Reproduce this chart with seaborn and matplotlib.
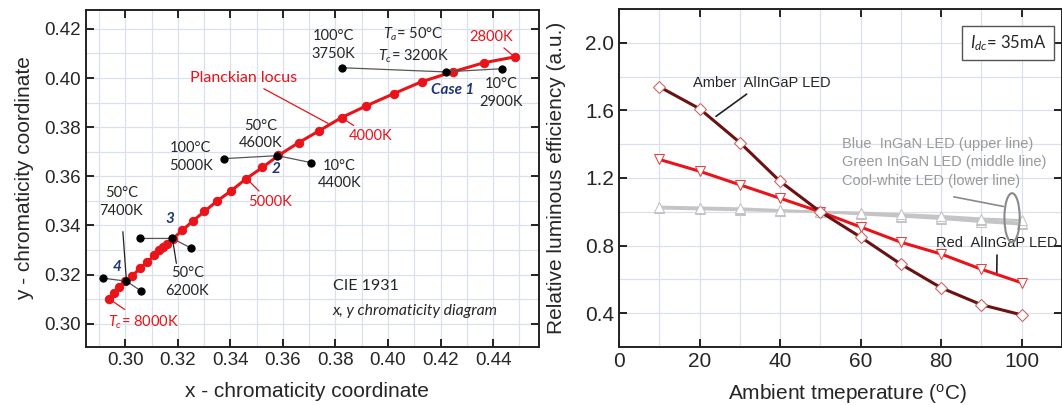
import numpy as np
import pandas as pd
import matplotlib
matplotlib.use("Agg")
import matplotlib.pyplot as plt
import seaborn as sns
from matplotlib.patches import Ellipse
from matplotlib.ticker import MultipleLocator, FormatStrFormatter

sns.set_style("ticks")
plt.rcParams['font.family'] = ['Liberation Sans', 'DejaVu Sans']
plt.rcParams['mathtext.fontset'] = 'custom'
plt.rcParams['mathtext.rm'] = 'Lato'
plt.rcParams['mathtext.it'] = 'Lato:italic'

# planckian locus dots (CIE 1931 x, y), 8000K -> 2800K
locus_x = [0.2939, 0.2958, 0.2977, 0.3000, 0.3027, 0.3054, 0.3084, 0.3110, 0.3128,
           0.3145, 0.3160, 0.3180, 0.3217, 0.3259, 0.3301, 0.3350, 0.3404, 0.3461,
           0.3522, 0.3583, 0.3660, 0.3739, 0.3823, 0.3918, 0.4021, 0.4128, 0.4246,
           0.4364, 0.4482]
locus_y = [0.3100, 0.3124, 0.3149, 0.3172, 0.3193, 0.3226, 0.3250, 0.3280, 0.3298,
           0.3313, 0.3326, 0.3345, 0.3380, 0.3420, 0.3457, 0.3500, 0.3542, 0.3591,
           0.3636, 0.3685, 0.3737, 0.3786, 0.3839, 0.3887, 0.3936, 0.3985, 0.4025,
           0.4062, 0.4086]

# chromaticity shift of the four cases (100C, 50C, 10C)
case1_x = [0.3823, 0.4219, 0.4433]
case1_y = [0.4042, 0.4025, 0.4038]
case2_x = [0.3377, 0.3579, 0.3705]
case2_y = [0.3672, 0.3684, 0.3656]
case3_x = [0.3057, 0.3179, 0.3251]
case3_y = [0.3347, 0.3347, 0.3307]
case4_x = [0.2916, 0.3004, 0.3061]
case4_y = [0.3185, 0.3173, 0.3132]

# relative luminous efficiency vs ambient temperature
temps = [10, 20, 30, 40, 50, 60, 70, 80, 90, 100]
amber = [1.74, 1.61, 1.41, 1.18, 1.00, 0.85, 0.69, 0.55, 0.45, 0.39]
red = [1.31, 1.24, 1.16, 1.08, 1.00, 0.91, 0.82, 0.75, 0.66, 0.58]
blue = [1.03, 1.025, 1.02, 1.01, 1.00, 0.995, 0.985, 0.975, 0.96, 0.95]
green = [1.025, 1.02, 1.015, 1.005, 1.00, 0.99, 0.978, 0.965, 0.95, 0.935]
coolwhite = [1.02, 1.015, 1.01, 1.005, 1.00, 0.985, 0.972, 0.958, 0.94, 0.925]

RED = '#e8141a'
MAROON = '#6a1212'
GRAY = '#c4c4c4'
NAVY = '#1f3577'
GRID = '#dbe1ec'

fig = plt.figure(figsize=(10.62, 4.05), dpi=100)
ax1 = fig.add_axes([86/1062, 58/405, 453/1062, 337/405])
ax2 = fig.add_axes([619/1062, 58/405, 443/1062, 338/405])

def style_axes(ax):
    ax.grid(True, which='both', color=GRID, lw=0.9, zorder=0)
    ax.set_axisbelow(True)
    for s in ax.spines.values():
        s.set_color('#222222')
        s.set_linewidth(1.4)
    ax.tick_params(which='major', direction='in', top=True, right=True, length=6, width=1.4, color='#222222')
    ax.tick_params(which='minor', length=0)

# ---- left: chromaticity diagram ----
sns.lineplot(x=locus_x, y=locus_y, sort=False, ax=ax1, color=RED, lw=2.2,
             marker='o', markersize=6, markeredgecolor=RED, zorder=3)
for cx, cy in [(case1_x, case1_y), (case2_x, case2_y), (case3_x, case3_y), (case4_x, case4_y)]:
    sns.lineplot(x=cx, y=cy, sort=False, ax=ax1, color='#555555', lw=0.9,
                 marker='o', markersize=5.2, markerfacecolor='black', markeredgecolor='black', zorder=4)

ax1.set_xlim(0.285, 0.4575)
ax1.set_ylim(0.2905, 0.4277)
ax1.xaxis.set_major_locator(MultipleLocator(0.02))
ax1.xaxis.set_minor_locator(MultipleLocator(0.01))
ax1.yaxis.set_major_locator(MultipleLocator(0.02))
ax1.yaxis.set_minor_locator(MultipleLocator(0.01))
ax1.xaxis.set_major_formatter(FormatStrFormatter('%.2f'))
ax1.yaxis.set_major_formatter(FormatStrFormatter('%.2f'))
style_axes(ax1)
ax1.tick_params(labelsize=13.5)
ax1.set_xlabel('x - chromaticity coordinate', fontsize=15)
ax1.set_ylabel('y - chromaticity coordinate', fontsize=15)
ax1.xaxis.set_label_coords(0.488, -0.105)
ax1.yaxis.set_label_coords(-0.115, 0.5)

lab = dict(family=['Lato', 'DejaVu Sans'], fontsize=10.5, ha='center', va='center', linespacing=1.35)
ln = dict(arrowstyle='-', lw=0.9, shrinkA=1, shrinkB=2)
ax1.text(0.3792, 0.4135, '100°C\n3750K', **lab)
ax1.text(0.4097, 0.4135, '$T_a$= 50°C\n$T_c$= 3200K', **lab)
ax1.text(0.4432, 0.3940, '10°C\n2900K', **lab)
ax1.text(0.3514, 0.3770, '50°C\n4600K', **lab)
ax1.text(0.3248, 0.3680, '100°C\n5000K', **lab)
ax1.text(0.3815, 0.3607, '10°C\n4400K', **lab)
ax1.text(0.2985, 0.3494, '50°C\n7400K', **lab)
ax1.text(0.3236, 0.3169, '50°C\n6200K', **lab)

ax1.annotate('2800K', xy=(locus_x[-1], locus_y[-1]), xytext=(0.4391, 0.4168), color=RED,
             arrowprops=dict(color=RED, **ln), **lab)
ax1.annotate('Planckian locus', xy=(0.3781, 0.3810), xytext=(0.3450, 0.4001), color=RED,
             arrowprops=dict(color=RED, **ln), **{**lab, 'fontsize': 11.5})
ax1.annotate('4000K', xy=(locus_x[22], locus_y[22]), xytext=(0.3933, 0.3762), color=RED,
             arrowprops=dict(color=RED, **ln), **lab)
ax1.annotate('5000K', xy=(locus_x[17], locus_y[17]), xytext=(0.3552, 0.3494), color=RED,
             arrowprops=dict(color=RED, **ln), **lab)
ax1.annotate('$T_c$= 8000K', xy=(locus_x[0], locus_y[0]), xytext=(0.3069, 0.3006), color=RED,
             arrowprops=dict(color=RED, **ln), **lab)
ax1.annotate('', xy=(case4_x[1], case4_y[1]), xytext=(0.2990, 0.3380),
             arrowprops=dict(color='#222222', **ln))
ax1.annotate('', xy=(case3_x[1], case3_y[1]), xytext=(0.3195, 0.3240),
             arrowprops=dict(color='#222222', **ln))

num = dict(family=['Lato', 'DejaVu Sans'], fontsize=11, ha='center', va='center',
           color=NAVY, fontweight='bold', style='italic')
ax1.text(0.4246, 0.3952, 'Case 1', **num)
ax1.text(0.3575, 0.3628, '2', **num)
ax1.text(0.3171, 0.3425, '3', **num)
ax1.text(0.2970, 0.3230, '4', **num)

ax1.text(0.3789, 0.3153, 'CIE 1931', family=['Lato', 'DejaVu Sans'], fontsize=11.5, va='center')
ax1.text(0.3789, 0.3051, 'x, y chromaticity diagram', family=['Lato', 'DejaVu Sans'],
         fontsize=11.3, va='center', style='italic')

# ---- right: relative luminous efficiency ----
for vals in [coolwhite, green, blue]:
    sns.lineplot(x=temps, y=vals, ax=ax2, color=GRAY, lw=1.6, marker='^', markersize=6.5,
                 markerfacecolor='white', markeredgecolor=GRAY, zorder=3)
sns.lineplot(x=temps, y=red, ax=ax2, color=RED, lw=2.2, marker='v', markersize=7,
             markerfacecolor='white', markeredgecolor='#e8403f', zorder=4)
sns.lineplot(x=temps, y=amber, ax=ax2, color=MAROON, lw=2.2, marker='D', markersize=6,
             markerfacecolor='white', markeredgecolor='#c86060', zorder=5)

ax2.set_xlim(0, 110)
ax2.set_ylim(0.2, 2.2)
ax2.xaxis.set_major_locator(MultipleLocator(20))
ax2.xaxis.set_minor_locator(MultipleLocator(10))
ax2.yaxis.set_minor_locator(MultipleLocator(0.2))
ax2.set_yticks([0.4, 0.8, 1.2, 1.6, 2.0])
ax2.yaxis.set_major_formatter(FormatStrFormatter('%.1f'))
ax2.set_xticks([0, 20, 40, 60, 80, 100])
style_axes(ax2)
ax2.tick_params(labelsize=15)
ax2.set_xlabel('Ambient tmeperature ($^{\\mathregular{o}}$C)', fontsize=15)
ax2.set_ylabel('Relative luminous efficiency (a.u.)', fontsize=15)
ax2.xaxis.set_label_coords(0.517, -0.105)
ax2.yaxis.set_label_coords(-0.12, 0.5)

rlab = dict(fontsize=10.5, va='center')
ln2 = dict(arrowstyle='-', lw=1.2, shrinkA=1, shrinkB=1)
ax2.annotate('Amber  AlInGaP LED', xy=(23.8, 1.56), xytext=(35.5, 1.762), ha='center',
             arrowprops=dict(color='#222222', **ln2), **rlab)
ax2.annotate('Red  AlInGaP LED', xy=(93.8, 0.63), xytext=(93.9, 0.813), ha='center',
             arrowprops=dict(color='#222222', **ln2), **rlab)
ax2.text(55.4, 1.400, 'Blue  InGaN LED (upper line)', color='#9a9a9a', **rlab)
ax2.text(55.4, 1.293, 'Green InGaN LED (middle line)', color='#9a9a9a', **rlab)
ax2.text(55.4, 1.181, 'Cool-white LED (lower line)', color='#9a9a9a', **rlab)
ax2.add_patch(Ellipse((97.6, 0.965), 3.8, 0.29, fill=False, ec='#8a8a8a', lw=1.5, zorder=6))
ax2.annotate('', xy=(95.8, 1.03), xytext=(82.8, 1.09),
             arrowprops=dict(color='#8a8a8a', **ln2))
ax2.text(0.878, 0.899, '$I_{dc}$= 35mA', transform=ax2.transAxes, ha='center', va='center',
         family=['Lato', 'DejaVu Sans'], fontsize=12,
         bbox=dict(boxstyle='square,pad=0.45', fc='white', ec='#555555', lw=1))

fig.savefig('out.png', dpi=100)
